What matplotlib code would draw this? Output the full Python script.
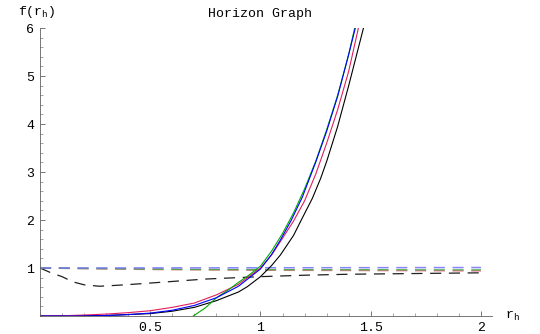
import matplotlib
matplotlib.use('Agg')
import matplotlib.pyplot as plt
from matplotlib.ticker import MultipleLocator

plt.rcParams['font.family'] = ['Liberation Mono', 'DejaVu Sans Mono']
plt.rcParams['mathtext.fontset'] = 'custom'
plt.rcParams['mathtext.rm'] = 'Liberation Mono'
plt.rcParams['lines.scale_dashes'] = False

# solid curves
x_blue = [0.0, 0.2, 0.3, 0.4, 0.5, 0.6, 0.7, 0.8, 0.9, 1.0, 1.05, 1.09, 1.14, 1.19, 1.25, 1.3, 1.35, 1.4, 1.43]
y_blue = [0.0, 0.0, 0.01, 0.03, 0.06, 0.12, 0.22, 0.38, 0.62, 0.98, 1.28, 1.58, 2.0, 2.48, 3.2, 3.85, 4.58, 5.45, 6.0]

x_green = [0.695, 0.75, 0.8, 0.85, 0.9, 0.95, 1.0, 1.05, 1.1, 1.15, 1.2, 1.25, 1.3, 1.35, 1.4, 1.427]
y_green = [0.0, 0.17, 0.38, 0.53, 0.70, 0.86, 1.04, 1.35, 1.72, 2.15, 2.65, 3.22, 3.88, 4.6, 5.45, 6.0]

x_red = [0.0, 0.1, 0.2, 0.3, 0.4, 0.5, 0.6, 0.7, 0.8, 0.9, 1.0, 1.05, 1.1, 1.15, 1.2, 1.25, 1.3, 1.35, 1.4, 1.444]
y_red = [0.0, 0.005, 0.02, 0.04, 0.07, 0.11, 0.18, 0.27, 0.44, 0.66, 1.0, 1.27, 1.62, 1.98, 2.4, 2.95, 3.6, 4.3, 5.1, 6.0]

x_black = [0.0, 0.3, 0.5, 0.6, 0.7, 0.8, 0.9, 0.94, 1.0, 1.05, 1.09, 1.15, 1.185, 1.235, 1.273, 1.3, 1.35, 1.4, 1.467]
y_black = [0.0, 0.01, 0.05, 0.10, 0.18, 0.32, 0.50, 0.61, 0.82, 1.05, 1.27, 1.68, 2.0, 2.45, 2.87, 3.22, 3.95, 4.8, 6.0]

# dashed curves
xd_blue = [0.0, 1.0, 2.0]
yd_blue = [1.0, 1.005, 1.01]
xd_green = [0.0, 0.7, 1.0, 2.0]
yd_green = [1.0, 0.97, 0.965, 0.96]
xd_red = [0.0, 0.5, 1.0, 2.0]
yd_red = [1.0, 0.97, 0.955, 0.94]
xd_black = [0.0, 0.05, 0.1, 0.15, 0.2, 0.27, 0.35, 0.45, 0.6, 0.75, 0.9, 1.0, 1.2, 1.4, 1.6, 1.8, 2.0]
yd_black = [1.0, 0.90, 0.82, 0.71, 0.65, 0.62, 0.64, 0.67, 0.72, 0.77, 0.80, 0.82, 0.85, 0.87, 0.88, 0.89, 0.90]

x_ticks = [0.5, 1, 1.5, 2]
x_labels = ['0.5', '1', '1.5', '2']
y_ticks = [1, 2, 3, 4, 5, 6]
y_labels = ['1', '2', '3', '4', '5', '6']

fig = plt.figure(figsize=(5.4, 3.34), dpi=100)
ax = fig.add_axes([0.0741, 0.0539, 0.837, 0.862])

dash = (0, (8, 5.5))
ax.plot(xd_black, yd_black, color='#202020', lw=0.9, linestyle=dash)
ax.plot(xd_red, yd_red, color='#f06088', lw=1.1, alpha=0.85, linestyle=dash)
ax.plot(xd_green, yd_green, color='#40a840', lw=1.1, alpha=0.85, linestyle=dash)
ax.plot(xd_blue, yd_blue, color='#7070ff', lw=1.1, alpha=0.85, linestyle=dash)

ax.plot(x_black, y_black, color='black', lw=0.8)
ax.plot(x_red, y_red, color='#e0205a', lw=0.8)
ax.plot(x_green, y_green, color='#00aa00', lw=0.8)
ax.plot(x_blue, y_blue, color='#0000ff', lw=0.8)

ax.set_xlim(0, 2.05)
ax.set_ylim(0, 6)
for side in ['top', 'right']:
    ax.spines[side].set_visible(False)
for side in ['left', 'bottom']:
    ax.spines[side].set_linewidth(0.6)
    ax.spines[side].set_color('#606060')

ax.set_xticks(x_ticks)
ax.set_xticklabels(x_labels)
ax.set_yticks(y_ticks)
ax.set_yticklabels(y_labels)
ax.xaxis.set_minor_locator(MultipleLocator(0.1))
ax.yaxis.set_minor_locator(MultipleLocator(0.2))
ax.tick_params(which='major', direction='in', length=3.5, width=0.6, color='#606060', labelsize=9.5)
ax.tick_params(which='minor', direction='in', length=2, width=0.5, color='#808080')
ax.tick_params(axis='x', pad=4)
ax.tick_params(axis='y', pad=4)

fig.text(260 / 540, 1 - 14 / 334, 'Horizon Graph', ha='center', va='center', fontsize=9.5)
fig.text(37 / 540, 1 - 12 / 334, r'f(r$_\mathrm{h}$)', ha='center', va='center', fontsize=9.5)
fig.text(512 / 540, 1 - 316 / 334, r'r$_\mathrm{h}$', ha='center', va='center', fontsize=9.5)

fig.savefig('out.png', dpi=100)
plt.close(fig)
